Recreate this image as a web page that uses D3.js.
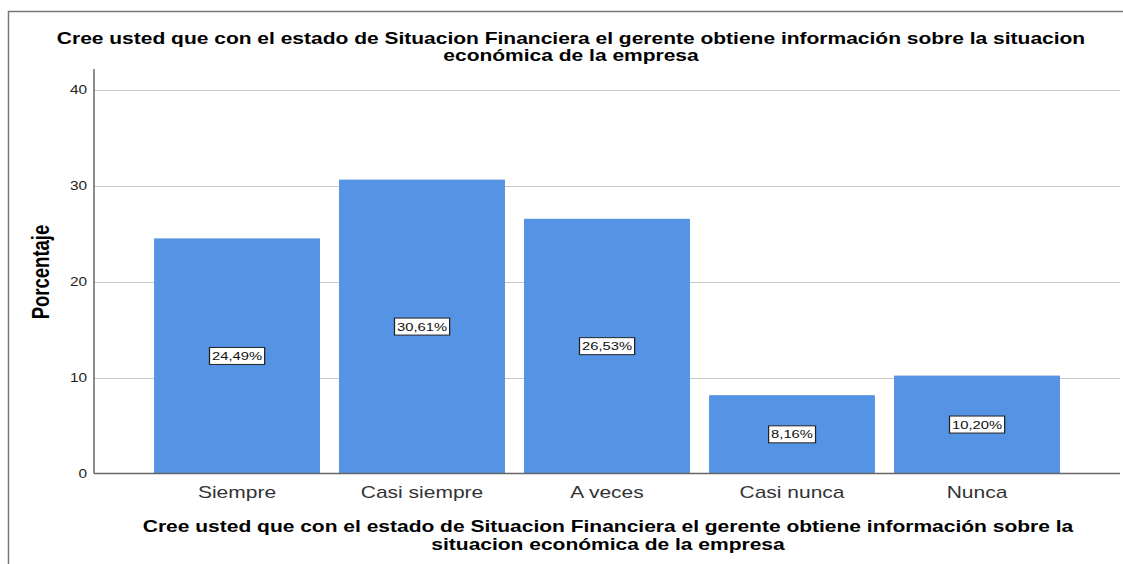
<!DOCTYPE html>
<html>
<head>
<meta charset="utf-8">
<script src="https://cdn.jsdelivr.net/npm/d3@7"></script>
<style>
  body { margin: 0; background: #fff; }
  svg { display: block; font-family: "Liberation Sans", Arial, sans-serif; }
</style>
</head>
<body>
<svg width="1123" height="564"></svg>
<script>
// data
var categories = ["Siempre", "Casi siempre", "A veces", "Casi nunca", "Nunca"];
var percents = [24.49, 30.61, 26.53, 8.16, 10.20];
var yTicks = [0, 10, 20, 30, 40];
var titleLines = ["Cree usted que con el estado de Situacion Financiera el gerente obtiene información sobre la situacion",
                  "económica de la empresa"];
var xTitleLines = ["Cree usted que con el estado de Situacion Financiera el gerente obtiene información sobre la",
                   "situacion económica de la empresa"];
var yTitle = "Porcentaje";

var svg = d3.select("svg");
var sx = 1.25;   // the source export is stretched sideways, text included

// anchor group for stretched text
function stretched(px, py) {
    return svg.append("g")
        .attr("transform", "translate(" + px + "," + py + ") scale(" + sx + ",1)");
}

// outer frame (runs off right and bottom edges)
svg.append("rect")
    .attr("x", 8.5).attr("y", 11.5)
    .attr("width", 1130).attr("height", 570)
    .attr("fill", "none").attr("stroke", "#777").attr("stroke-width", 1.5);

var plotL = 94, plotR = 1120, plotT = 69, plotB = 473.5;

var x = d3.scaleBand()
    .domain(categories)
    .range([plotL, plotR])
    .paddingInner(0.103)
    .paddingOuter(0.3245);

var y = d3.scaleLinear()
    .domain([0, 40])
    .range([plotB, plotB - 384]);

// gridlines
svg.append("g").selectAll("line")
    .data(yTicks.filter(function(d) { return d > 0; }))
    .enter().append("line")
    .attr("x1", plotL).attr("x2", plotR)
    .attr("y1", function(d) { return Math.round(y(d)) + 0.5; })
    .attr("y2", function(d) { return Math.round(y(d)) + 0.5; })
    .attr("stroke", "#c8c8c8").attr("stroke-width", 1.2);

// bars
svg.append("g").selectAll("rect")
    .data(percents)
    .enter().append("rect")
    .attr("x", function(d, i) { return x(categories[i]); })
    .attr("y", function(d) { return y(d); })
    .attr("width", x.bandwidth())
    .attr("height", function(d) { return y(0) - y(d); })
    .attr("fill", "#5594e4");

// axes lines
svg.append("line")
    .attr("x1", plotL).attr("x2", plotL).attr("y1", plotT).attr("y2", plotB)
    .attr("stroke", "#666").attr("stroke-width", 1.5);
svg.append("line")
    .attr("x1", plotL).attr("x2", plotR).attr("y1", plotB).attr("y2", plotB)
    .attr("stroke", "#666").attr("stroke-width", 1.5);

// y tick labels
yTicks.forEach(function(t) {
    stretched(87, y(t)).append("text")
        .attr("dy", "0.35em")
        .attr("text-anchor", "end")
        .attr("font-size", 12.3)
        .attr("fill", "#222")
        .text(t);
});

// x tick labels
categories.forEach(function(c) {
    stretched(x(c) + x.bandwidth() / 2, 498).append("text")
        .attr("text-anchor", "middle")
        .attr("font-size", 16.8)
        .attr("fill", "#333")
        .text(c);
});

// value labels
percents.forEach(function(v, i) {
    var g = stretched(x(categories[i]) + x.bandwidth() / 2, y(v / 2));
    var t = g.append("text")
        .attr("text-anchor", "middle")
        .attr("dy", "0.35em")
        .attr("font-size", 11.8)
        .attr("fill", "#111")
        .text(v.toFixed(2).replace(".", ",") + "%");
    var b = t.node().getBBox();
    g.insert("rect", "text")
        .attr("x", b.x - 2).attr("y", -8.5)
        .attr("width", b.width + 4).attr("height", 17)
        .attr("fill", "#fff").attr("stroke", "#222").attr("stroke-width", 1);
});

// chart title
stretched(571, 44).append("text")
    .attr("text-anchor", "middle")
    .attr("font-size", 16.8).attr("font-weight", "bold")
    .selectAll("tspan").data(titleLines).enter().append("tspan")
    .attr("x", 0).attr("dy", function(d, i) { return i ? 17 : 0; })
    .text(function(d) { return d; });

// x axis title
stretched(608, 532).append("text")
    .attr("text-anchor", "middle")
    .attr("font-size", 16.8).attr("font-weight", "bold")
    .selectAll("tspan").data(xTitleLines).enter().append("tspan")
    .attr("x", 0).attr("dy", function(d, i) { return i ? 18 : 0; })
    .text(function(d) { return d; });

// y axis title
stretched(49, 272).append("text")
    .attr("transform", "rotate(-90)")
    .attr("text-anchor", "middle")
    .attr("font-size", 18.5).attr("font-weight", "bold")
    .text(yTitle);
</script>
</body>
</html>
